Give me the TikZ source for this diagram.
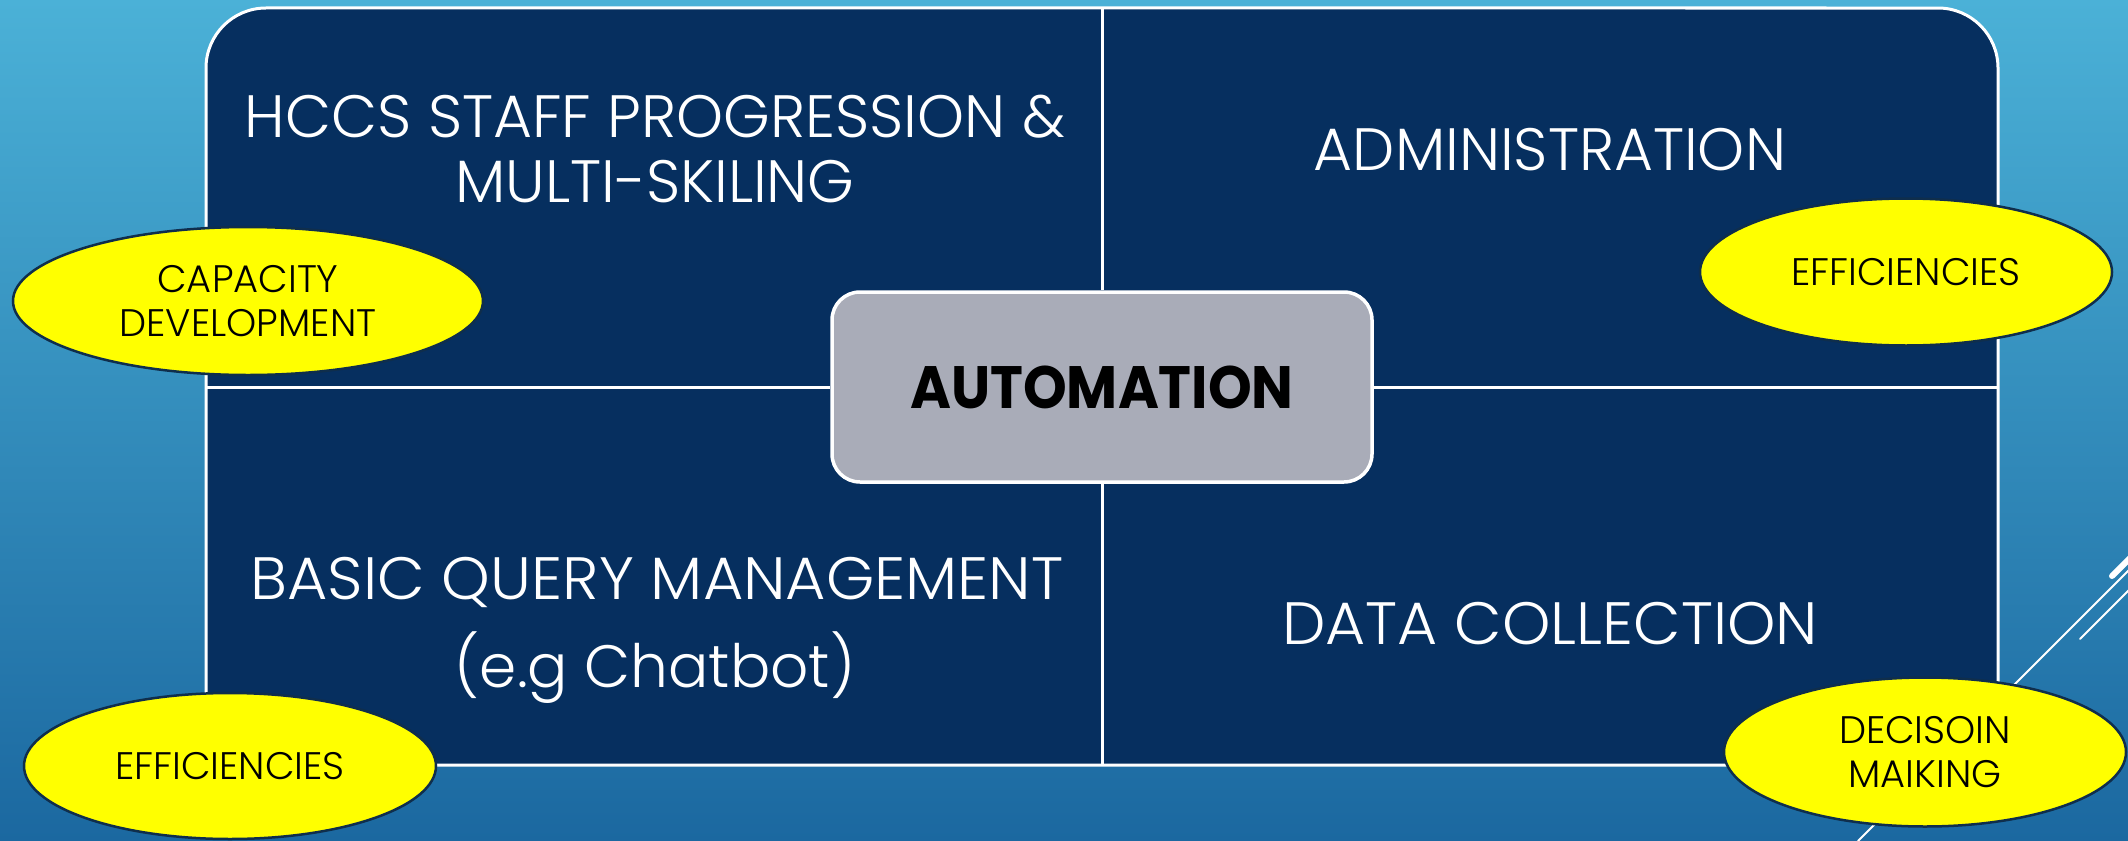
\documentclass[tikz,border=0pt]{standalone}
\usepackage{fontspec}
\IfFontExistsTF{Poppins Light}
  {\setmainfont{Poppins}[UprightFont={* Light}, BoldFont={* Bold}]}
  {\setmainfont{Poppins}}
\usetikzlibrary{shapes.geometric}
\definecolor{bgtop}{HTML}{4BB1D7}
\definecolor{bgbot}{HTML}{1B68A0}
\definecolor{panelblue}{HTML}{062F5F}
\definecolor{hubgrey}{HTML}{A9ACB8}
\definecolor{bubbleedge}{HTML}{0F2E4C}
\definecolor{bubblefill}{HTML}{FFFF00}
\begin{document}
\begin{tikzpicture}[x=1bp,y=-1bp,
  quad/.style={text=white, font=\fontsize{60}{66}\selectfont, anchor=base, inner sep=0pt},
  bubble/.style={ellipse, draw=bubbleedge, line width=2.5bp, fill=bubblefill, inner sep=0pt,
    align=center, font=\fontsize{38.5}{45}\selectfont, text=black},
  divider/.style={draw=white, line width=3bp},
  streak/.style={draw=white, line width=2bp, line cap=round},
  hubbox/.style={draw=white, line width=3.5bp, fill=hubgrey, rounded corners=28bp,
    minimum width=540bp, minimum height=190bp, inner sep=0pt,
    font=\bfseries\fontsize{60}{66}\selectfont, text=black}]
\useasboundingbox (0,0) rectangle (2128,841);
\shade[top color=bgtop, bottom color=bgbot] (0,0) rectangle (2128,841);
% decorative streaks
\coordinate (sa1) at (1858,841); \coordinate (sa2) at (2140,559);
\coordinate (sb1) at (2080,639); \coordinate (sb2) at (2140,579);
\coordinate (sc1) at (2112,576); \coordinate (sc2) at (2140,548);
\draw[streak] (sa1) -- (sa2);
\draw[streak] (sb1) -- (sb2);
\draw[streak, line width=6bp] (sc1) -- (sc2);
% panel
\path[draw=white, fill=panelblue, line width=3bp]
  (206,765) -- (206,68) arc[start angle=180, end angle=90, radius=60bp]
  -- (1938,8) arc[start angle=90, end angle=0, radius=60bp] -- (1998,765) -- cycle;
\coordinate (pt) at (1102,8); \coordinate (pb) at (1102,765);
\coordinate (pl) at (206,387); \coordinate (pr) at (1998,387);
\node[hubbox] (hub) at (1102,387) {\scalebox{0.93}[1]{AUTOMATION}};
\draw[divider] (pt) -- (hub.north);
\draw[divider] (hub.south) -- (pb);
\draw[divider] (pl) -- (hub.west);
\draw[divider] (hub.east) -- (pr);
% quadrant texts
\node[quad] (q1a) at (655,137) {HCCS STAFF PROGRESSION \&};
\node[quad] (q1b) at (655,202) {MULTI-SKILING};
\node[quad] (q2) at (1550,170) {ADMINISTRATION};
\node[quad] (q3a) at (657,599) {\scalebox{1.035}[1]{BASIC QUERY MANAGEMENT}};
\node[quad] (q3b) at (655,687) {(e.g Chatbot)};
\node[quad] (q4) at (1550,644) {\scalebox{1.03}[1]{DATA COLLECTION}};
% bubbles
\node[bubble, minimum width=470bp, minimum height=148bp] (capdev) at (248,301) {CAPACITY\\DEVELOPMENT};
\node[bubble, minimum width=412bp, minimum height=147bp] (efftr) at (1906,272) {EFFICIENCIES};
\node[bubble, minimum width=412bp, minimum height=146bp] (effbl) at (230,766) {EFFICIENCIES};
\node[bubble, minimum width=402bp, minimum height=149bp] (decis) at (1925,752) {DECISOIN\\MAIKING};
\end{tikzpicture}
\end{document}
